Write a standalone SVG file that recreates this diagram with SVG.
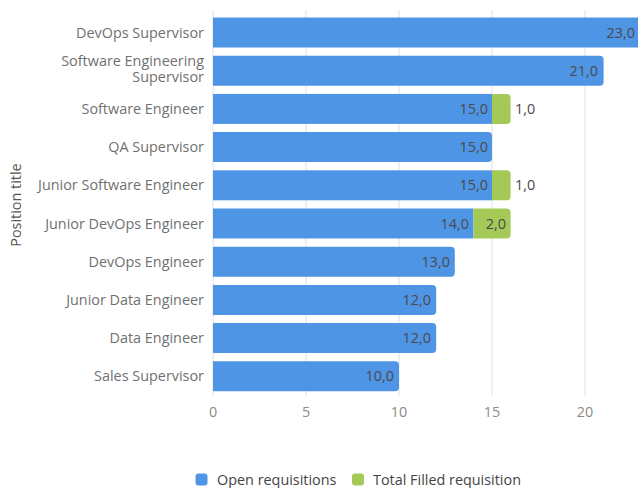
<svg xmlns="http://www.w3.org/2000/svg" width="638" height="488" viewBox="0 0 638 488">
<style>
text{font-family:"Open Sans","Noto Sans","Liberation Sans",sans-serif;}
.cat{font-size:14.4px;fill:#707070;text-anchor:end;}
.tick{font-size:14.4px;fill:#8a8a8a;text-anchor:middle;}
.val{font-size:14.4px;fill:#4a4a4a;text-anchor:end;}
.valo{font-size:14.4px;fill:#4a4a4a;text-anchor:start;}
.grid{stroke:#e4e4e8;stroke-width:1.2;}
.open{fill:#4f95e6;}
.filled{fill:#a5c956;}
.leg{font-size:14.4px;fill:#444;}
</style>
<rect width="638" height="488" fill="#ffffff"/>
<g id="grid">
<line class="grid" x1="213" y1="10" x2="213" y2="396"/>
<line class="grid" x1="306" y1="10" x2="306" y2="396"/>
<line class="grid" x1="399" y1="10" x2="399" y2="396"/>
<line class="grid" x1="492" y1="10" x2="492" y2="396"/>
<line class="grid" x1="585" y1="10" x2="585" y2="396"/>
</g>
<g id="ticks">
<text class="tick" x="213" y="417">0</text>
<text class="tick" x="306" y="417">5</text>
<text class="tick" x="399" y="417">10</text>
<text class="tick" x="492" y="417">15</text>
<text class="tick" x="585" y="417">20</text>
</g>
<text id="axis-title" transform="translate(21,205) rotate(-90)" text-anchor="middle" font-size="14.4" fill="#555">Position title</text>
<g id="row-devops-supervisor">
<text class="cat" x="204" y="37.5">DevOps Supervisor</text>
<path class="open" d="M213 17.5H645V47.5H213Z"/>
<text class="val" x="635" y="37.5">23,0</text>
</g>
<g id="row-software-engineering-supervisor">
<text class="cat" x="204" y="66">Software Engineering</text>
<text class="cat" x="204" y="81.5">Supervisor</text>
<path class="open" d="M213 55.7H599.6Q603.6 55.7 603.6 59.7V81.7Q603.6 85.7 599.6 85.7H213Z"/>
<text class="val" x="598" y="75.5">21,0</text>
</g>
<g id="row-software-engineer">
<text class="cat" x="204" y="113.5">Software Engineer</text>
<rect class="open" x="213" y="93.9" width="279" height="30"/>
<path class="filled" d="M492 93.9H506.6Q510.6 93.9 510.6 97.9V119.9Q510.6 123.9 506.6 123.9H492Z"/>
<text class="val" x="488" y="113.5">15,0</text>
<text class="valo" x="515" y="113.5">1,0</text>
</g>
<g id="row-qa-supervisor">
<text class="cat" x="204" y="152">QA Supervisor</text>
<path class="open" d="M213 132.1H488Q492 132.1 492 136.1V158.1Q492 162.1 488 162.1H213Z"/>
<text class="val" x="488" y="152">15,0</text>
</g>
<g id="row-junior-software-engineer">
<text class="cat" x="204" y="190">Junior Software Engineer</text>
<rect class="open" x="213" y="170.3" width="279" height="30"/>
<path class="filled" d="M492 170.3H506.6Q510.6 170.3 510.6 174.3V196.3Q510.6 200.3 506.6 200.3H492Z"/>
<text class="val" x="488" y="190">15,0</text>
<text class="valo" x="515" y="190">1,0</text>
</g>
<g id="row-junior-devops-engineer">
<text class="cat" x="204" y="228.5">Junior DevOps Engineer</text>
<rect class="open" x="213" y="208.5" width="260.4" height="30"/>
<path class="filled" d="M473.4 208.5H506.6Q510.6 208.5 510.6 212.5V234.5Q510.6 238.5 506.6 238.5H473.4Z"/>
<text class="val" x="469" y="228.5">14,0</text>
<text class="val" x="506" y="228.5">2,0</text>
</g>
<g id="row-devops-engineer">
<text class="cat" x="204" y="266.5">DevOps Engineer</text>
<path class="open" d="M213 246.7H450.8Q454.8 246.7 454.8 250.7V272.7Q454.8 276.7 450.8 276.7H213Z"/>
<text class="val" x="450" y="266.5">13,0</text>
</g>
<g id="row-junior-data-engineer">
<text class="cat" x="204" y="304.5">Junior Data Engineer</text>
<path class="open" d="M213 284.9H432.2Q436.2 284.9 436.2 288.9V310.9Q436.2 314.9 432.2 314.9H213Z"/>
<text class="val" x="431" y="304.5">12,0</text>
</g>
<g id="row-data-engineer">
<text class="cat" x="204" y="342.5">Data Engineer</text>
<path class="open" d="M213 323.1H432.2Q436.2 323.1 436.2 327.1V349.1Q436.2 353.1 432.2 353.1H213Z"/>
<text class="val" x="431" y="342.5">12,0</text>
</g>
<g id="row-sales-supervisor">
<text class="cat" x="204" y="380.5">Sales Supervisor</text>
<path class="open" d="M213 361.3H395Q399 361.3 399 365.3V387.3Q399 391.3 395 391.3H213Z"/>
<text class="val" x="394" y="380.5">10,0</text>
</g>
<g id="legend">
<rect class="open" x="195.5" y="473.5" width="12" height="12" rx="3"/>
<text class="leg" x="217" y="485">Open requisitions</text>
<rect class="filled" x="352" y="473.5" width="12" height="12" rx="3"/>
<text class="leg" x="373" y="485">Total Filled requisition</text>
</g>
</svg>
